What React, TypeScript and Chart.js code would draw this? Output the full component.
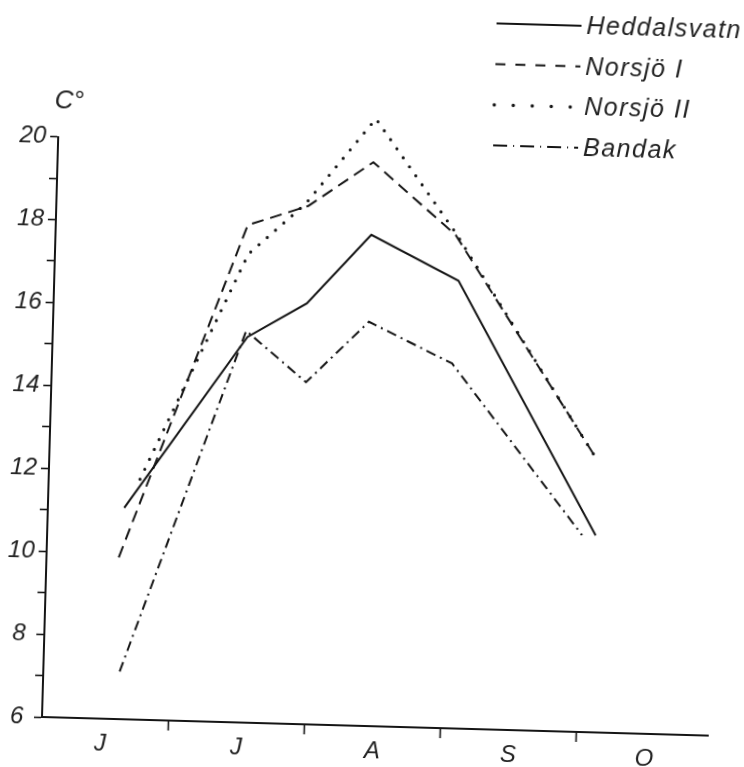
import React, { useEffect, useRef } from 'react';
import { Chart, registerables } from 'chart.js';

Chart.register(...registerables);

// Month axis: one unit per month, 0 = 1 June
const monthLabels = ['J', 'J', 'A', 'S', 'O'];
const monthTickValues = [0.5, 1, 1.5, 2, 2.5, 3, 3.5, 4, 4.5];
const seriesNames = ['Heddalsvatn', 'Norsjö I', 'Norsjö II', 'Bandak'];

// Sampling dates (months since 1 June) and surface temperatures (°C)
const heddalsvatnDates = [0.63, 1.5, 1.93, 2.39, 3.04, 4.1];
const heddalsvatnTemps = [11.1, 15.3, 16.15, 17.85, 16.8, 10.75];
const norsjo1Dates = [0.6, 1.48, 1.92, 2.39, 3.01, 4.08];
const norsjo1Temps = [9.9, 18.0, 18.5, 19.6, 17.9, 12.65];
const norsjo2Dates = [0.74, 1.49, 1.9, 2.4, 3.01, 4.11];
const norsjo2Temps = [11.8, 17.3, 18.55, 20.65, 17.95, 12.5];
const bandakDates = [0.63, 1.49, 1.94, 2.39, 3.01, 4.0];
const bandakTemps = [7.15, 15.45, 14.25, 15.75, 14.8, 10.75];

const INK = '#151515';
const FONT = "'Liberation Sans', 'DejaVu Sans', sans-serif";

const toPoints = (xs: number[], ys: number[]) => xs.map((x, i) => ({ x, y: ys[i] }));

// legend sample dash patterns (drawn larger than in the plot, as in the original)
const legendDashes: number[][] = [[], [10, 10], [0, 19], [14, 6, 1, 6]];

const handDrawnLegend = {
  id: 'handDrawnLegend',
  afterDraw(chart: any) {
    const ctx = chart.ctx as CanvasRenderingContext2D;
    const ca = chart.chartArea;
    const x0 = chart.width - 267;
    const lineLen = 85;
    const rowTop = 11;
    const rowGap = 40.7;
    chart.data.datasets.forEach((ds: any, i: number) => {
      const y = rowTop + i * rowGap;
      ctx.save();
      ctx.strokeStyle = INK;
      ctx.lineWidth = i === 2 ? 3.5 : 2;
      ctx.lineCap = i === 2 ? 'round' : 'butt';
      ctx.setLineDash(legendDashes[i]);
      ctx.beginPath();
      ctx.moveTo(x0, y);
      ctx.lineTo(x0 + lineLen, y);
      ctx.stroke();
      ctx.setLineDash([]);
      ctx.font = `italic 25px ${FONT}`;
      (ctx as any).letterSpacing = '1.5px';
      ctx.fillStyle = '#222';
      ctx.textAlign = 'left';
      ctx.textBaseline = 'middle';
      ctx.fillText(ds.label, x0 + lineLen + 5, y + 1);
      ctx.restore();
    });
    // unit label above the y axis
    ctx.save();
    ctx.font = `italic 26px ${FONT}`;
    ctx.fillStyle = '#222';
    ctx.textAlign = 'center';
    ctx.textBaseline = 'middle';
    ctx.fillText('C°', ca.left + 10, ca.top - 36);
    ctx.restore();
  },
};

export default function App() {
  const ref = useRef<HTMLCanvasElement>(null);

  useEffect(() => {
    const canvas = ref.current;
    if (!canvas) return;
    const tickFont = { family: FONT, style: 'italic' as const, size: 24 };
    const chart = new Chart(canvas, {
      type: 'line',
      data: {
        datasets: [
          {
            label: seriesNames[0],
            data: toPoints(heddalsvatnDates, heddalsvatnTemps),
            borderColor: INK,
            borderWidth: 2,
            pointRadius: 0,
            tension: 0,
            clip: false,
          },
          {
            label: seriesNames[1],
            data: toPoints(norsjo1Dates, norsjo1Temps),
            borderColor: INK,
            borderWidth: 2,
            borderDash: [12, 7],
            pointRadius: 0,
            tension: 0,
            clip: false,
          },
          {
            label: seriesNames[2],
            data: toPoints(norsjo2Dates, norsjo2Temps),
            borderColor: INK,
            borderWidth: 3.2,
            borderDash: [0, 11],
            borderCapStyle: 'round',
            pointRadius: 0,
            tension: 0,
            clip: false,
          },
          {
            label: seriesNames[3],
            data: toPoints(bandakDates, bandakTemps),
            borderColor: INK,
            borderWidth: 2,
            borderDash: [10, 5, 2, 5],
            pointRadius: 0,
            tension: 0,
            clip: false,
          },
        ],
      },
      options: {
        responsive: false,
        animation: false,
        events: [],
        layout: { padding: { left: 0, top: 136.6, right: 36, bottom: 0 } },
        plugins: {
          legend: { display: false },
          tooltip: { enabled: false },
          title: { display: false },
        },
        scales: {
          x: {
            type: 'linear',
            min: 0.0687,
            max: 4.965,
            afterBuildTicks: (scale: any) => {
              scale.ticks = monthTickValues.map((v) => ({ value: v }));
            },
            afterFit: (scale: any) => {
              scale.height = 50;
            },
            border: { display: true, color: INK, width: 2 },
            grid: {
              display: true,
              drawOnChartArea: false,
              drawTicks: true,
              tickLength: 10,
              tickWidth: 1.6,
              tickColor: (c: any) =>
                c.tick && Number.isInteger(c.tick.value) ? INK : 'rgba(0,0,0,0)',
            },
            ticks: {
              autoSkip: false,
              maxRotation: 0,
              minRotation: 0,
              padding: 1,
              color: '#222',
              font: tickFont,
              callback: (v: any) => {
                const n = Number(v);
                return Number.isInteger(n) ? '' : monthLabels[Math.floor(n)] ?? '';
              },
            },
          },
          y: {
            min: 6,
            max: 20,
            afterFit: (scale: any) => {
              scale.width = 42;
            },
            border: { display: true, color: INK, width: 2 },
            grid: {
              display: true,
              drawOnChartArea: false,
              drawTicks: true,
              tickLength: 8,
              tickWidth: 1.6,
              tickColor: INK,
            },
            ticks: {
              stepSize: 1,
              crossAlign: 'center',
              padding: 4,
              color: '#222',
              font: tickFont,
              callback: (v: any) => (Number(v) % 2 === 0 ? String(v) : ''),
            },
          },
        },
      },
      plugins: [handDrawnLegend],
    } as any);
    return () => chart.destroy();
  }, []);

  return (
    <div
      style={{
        position: 'absolute',
        left: 0,
        top: 0,
        width: 744,
        height: 767,
        background: '#fff',
        overflow: 'hidden',
      }}
    >
      <canvas
        ref={ref}
        width={744}
        height={767}
        style={{
          width: 744,
          height: 767,
          transform: 'rotate(1.6deg)',
          transformOrigin: '42px 717px',
        }}
      />
    </div>
  );
}
